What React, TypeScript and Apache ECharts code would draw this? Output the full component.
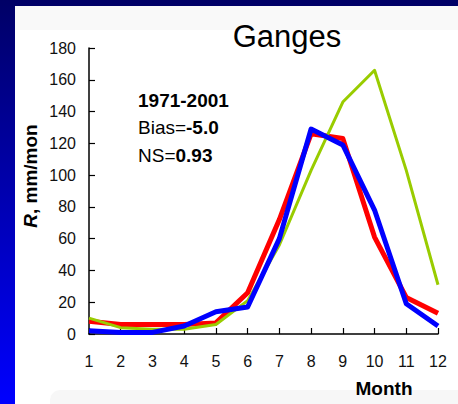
import React, { useEffect, useRef } from "react";
import * as echarts from "echarts";

const months = ["1", "2", "3", "4", "5", "6", "7", "8", "9", "10", "11", "12"];
const redSeries = [8, 6, 6, 6, 7, 26, 72, 126, 123, 61, 23, 13];
const greenSeries = [10, 4, 3, 3, 6, 21, 56, 103, 146, 166, 103, 31];
const blueSeries = [2, 1, 1, 5, 14, 17, 60, 129, 119, 78, 19, 5];
const yMin = 0;
const yMax = 180;
const yStep = 20;

const FONT = "'Liberation Sans', Arial, sans-serif";

export default function App() {
  const ref = useRef<HTMLDivElement>(null);
  useEffect(() => {
    if (!ref.current) return;
    const chart = echarts.init(ref.current, undefined, { renderer: "svg" });
    chart.setOption({
      animation: false,
      textStyle: { fontFamily: FONT },
      title: {
        text: "Ganges",
        left: 282,
        top: 16,
        textAlign: "center",
        textStyle: { fontSize: 31, fontWeight: "normal", color: "#000", fontFamily: FONT },
      },
      grid: { left: 89, right: 20, top: 48, bottom: 70 },
      xAxis: {
        type: "category",
        data: months,
        boundaryGap: false,
        axisLine: { lineStyle: { color: "#000", width: 1.5 } },
        axisTick: { inside: true, length: 6, lineStyle: { color: "#000", width: 1.2 } },
        axisLabel: { fontSize: 16, color: "#111", margin: 19, fontFamily: FONT },
        splitLine: { show: false },
      },
      yAxis: {
        type: "value",
        min: yMin,
        max: yMax,
        interval: yStep,
        axisLine: { show: true, lineStyle: { color: "#000", width: 1.5 } },
        axisTick: { show: true, inside: true, length: 6, lineStyle: { color: "#000", width: 1.2 } },
        axisLabel: { fontSize: 16, color: "#111", margin: 13, fontFamily: FONT },
        splitLine: { show: false },
      },
      graphic: [
        {
          type: "text",
          x: 30,
          y: 176,
          rotation: Math.PI / 2,
          style: {
            text: "{i|R}{b|, mm/mon}",
            align: "center",
            verticalAlign: "middle",
            rich: {
              i: { fontSize: 19, fontWeight: "bold", fontStyle: "italic", fill: "#000", fontFamily: FONT },
              b: { fontSize: 19, fontWeight: "bold", fill: "#000", fontFamily: FONT },
            },
          },
        },
        {
          type: "text",
          x: 138,
          y: 100,
          style: {
            text: "1971-2001",
            fontSize: 19,
            fontWeight: "bold",
            fill: "#000",
            verticalAlign: "middle",
            fontFamily: FONT,
          },
        },
        {
          type: "text",
          x: 138,
          y: 127,
          style: {
            text: "{r|Bias=}{b|-5.0}",
            verticalAlign: "middle",
            rich: {
              r: { fontSize: 19, fill: "#000", fontFamily: FONT },
              b: { fontSize: 19, fontWeight: "bold", fill: "#000", fontFamily: FONT },
            },
          },
        },
        {
          type: "text",
          x: 138,
          y: 155,
          style: {
            text: "{r|NS=}{b|0.93}",
            verticalAlign: "middle",
            rich: {
              r: { fontSize: 19, fill: "#000", fontFamily: FONT },
              b: { fontSize: 19, fontWeight: "bold", fill: "#000", fontFamily: FONT },
            },
          },
        },
        {
          type: "text",
          x: 384,
          y: 388,
          style: {
            text: "Month",
            fontSize: 19,
            fontWeight: "bold",
            fill: "#000",
            align: "center",
            verticalAlign: "middle",
            fontFamily: FONT,
          },
        },
      ],
      series: [
        {
          type: "line",
          data: redSeries,
          symbol: "none",
          lineStyle: { color: "#ff0000", width: 5, join: "round" },
          z: 2,
        },
        {
          type: "line",
          data: greenSeries,
          symbol: "none",
          lineStyle: { color: "#99cc00", width: 3, join: "round" },
          z: 3,
        },
        {
          type: "line",
          data: blueSeries,
          symbol: "none",
          lineStyle: { color: "#0000ff", width: 5, join: "round" },
          z: 4,
        },
      ],
    });
    return () => chart.dispose();
  }, []);

  return (
    <div
      style={{
        position: "fixed",
        left: 0,
        top: 0,
        width: 458,
        height: 404,
        background: "linear-gradient(to bottom, #000066, #0000ff)",
        overflow: "hidden",
      }}
    >
      <div style={{ position: "absolute", left: 15, top: 6, right: 0, bottom: 0, background: "#ffffff" }} />
      <div style={{ position: "absolute", left: 15, top: 6, right: 0, height: 24, background: "#f9f9f9" }} />
      <div
        style={{
          position: "absolute",
          left: 50,
          top: 390,
          right: 0,
          bottom: -10,
          background: "#f7f7f7",
          borderTopLeftRadius: 10,
        }}
      />
      <div ref={ref} style={{ position: "absolute", left: 0, top: 0, width: 458, height: 404 }} />
    </div>
  );
}
